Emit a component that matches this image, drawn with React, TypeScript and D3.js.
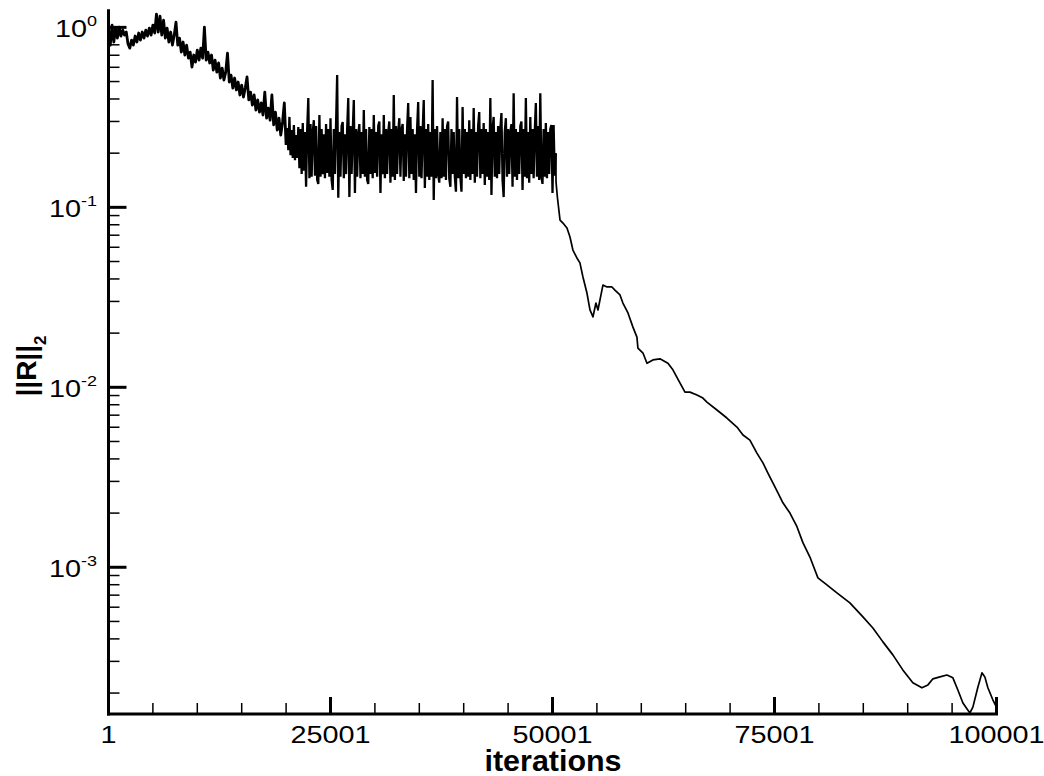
import React from "react";
import * as d3 from "d3";

// ---- Data ----
// Residual history: iterations 1..100001, log-scaled L2 norm of residual

// Early transient: start iteration 1, sampled every 200 iterations
const earlyStart = 1;
const earlyStep = 200;
const earlyValues = [
  0.966, 0.797, 1.03, 0.829, 0.991, 0.872, 1.004, 0.895, 0.966, 0.906,
  0.942, 0.808, 0.767, 0.85, 0.797, 0.895, 0.829, 0.93, 0.85, 0.942,
  0.872, 0.966, 0.895, 0.991, 0.906, 1.03, 0.93, 1.186, 0.942, 1.155,
  0.906, 1.098, 0.872, 0.991, 0.829, 0.942, 0.797, 0.906, 1.07, 0.797,
  0.872, 0.729, 0.829, 0.702, 0.797, 0.675, 0.729, 0.602, 0.702, 0.641,
  0.748, 0.658, 0.767, 0.675, 1.004, 0.658, 0.729, 0.634, 0.702, 0.579,
  0.658, 0.564, 0.634, 0.523, 0.594, 0.51, 0.564, 0.72, 0.497, 0.543,
  0.46, 0.523, 0.449, 0.497, 0.421, 0.478, 0.41, 0.46, 0.53, 0.395,
  0.437, 0.37, 0.421, 0.347, 0.395, 0.338, 0.38, 0.326, 0.437, 0.313,
  0.356, 0.305, 0.421, 0.287, 0.338, 0.269, 0.313, 0.252, 0.298, 0.38,
  0.222,
];

// Stalled plateau: start iteration 20126, sampled every 125 iterations
const plateauStart = 20126;
const plateauStep = 125;
const plateauValues = [
  0.276, 0.208, 0.318, 0.195, 0.269, 0.188, 0.287, 0.183, 0.252, 0.188,
  0.279, 0.165, 0.272, 0.153, 0.294, 0.16, 0.262, 0.13, 0.272, 0.405,
  0.145, 0.29, 0.148, 0.262, 0.305, 0.15, 0.283, 0.142, 0.135, 0.326,
  0.148, 0.272, 0.153, 0.255, 0.145, 0.29, 0.155, 0.272, 0.148, 0.313,
  0.142, 0.125, 0.272, 0.153, 0.29, 0.543, 0.113, 0.262, 0.148, 0.283,
  0.298, 0.145, 0.255, 0.153, 0.272, 0.405, 0.114, 0.283, 0.153, 0.262,
  0.395, 0.12, 0.272, 0.148, 0.255, 0.29, 0.145, 0.262, 0.153, 0.347,
  0.148, 0.272, 0.142, 0.135, 0.279, 0.153, 0.272, 0.145, 0.326, 0.155,
  0.262, 0.148, 0.283, 0.3, 0.12, 0.255, 0.153, 0.326, 0.145, 0.272,
  0.153, 0.262, 0.3, 0.137, 0.272, 0.148, 0.421, 0.142, 0.283, 0.153,
  0.262, 0.313, 0.148, 0.272, 0.29, 0.14, 0.255, 0.148, 0.272, 0.38,
  0.145, 0.318, 0.153, 0.272, 0.142, 0.255, 0.12, 0.272, 0.385, 0.148,
  0.283, 0.145, 0.262, 0.395, 0.128, 0.272, 0.148, 0.29, 0.142, 0.262,
  0.148, 0.51, 0.11, 0.272, 0.145, 0.283, 0.153, 0.137, 0.262, 0.145,
  0.313, 0.148, 0.272, 0.142, 0.283, 0.3, 0.145, 0.13, 0.272, 0.153,
  0.262, 0.148, 0.122, 0.41, 0.145, 0.272, 0.148, 0.122, 0.361, 0.153,
  0.272, 0.145, 0.262, 0.148, 0.305, 0.142, 0.272, 0.153, 0.356, 0.137,
  0.262, 0.148, 0.283, 0.338, 0.145, 0.272, 0.153, 0.294, 0.133, 0.272,
  0.148, 0.262, 0.142, 0.405, 0.117, 0.272, 0.318, 0.148, 0.262, 0.145,
  0.283, 0.153, 0.272, 0.334, 0.142, 0.114, 0.262, 0.313, 0.148, 0.272,
  0.153, 0.262, 0.29, 0.13, 0.431, 0.148, 0.272, 0.142, 0.262, 0.153,
  0.283, 0.3, 0.125, 0.272, 0.148, 0.405, 0.145, 0.262, 0.137, 0.318,
  0.153, 0.272, 0.145, 0.262, 0.38, 0.148, 0.283, 0.142, 0.431, 0.148,
  0.135, 0.272, 0.148, 0.294, 0.145, 0.262, 0.153, 0.272, 0.287, 0.12,
  0.287, 0.15, 0.2,
];

// Convergence phase
const decayIters = [
  50400, 50550, 50850, 51180, 51630, 51970, 52300, 52750, 53090, 53430,
  53880, 54220, 54560, 54890, 55120, 55680, 56130, 56700, 57030, 57600,
  57930, 58500, 59060, 59510, 59620, 60190, 60640, 61310, 62100, 63000,
  63560, 64350, 64920, 65480, 66270, 66940, 67390, 68520, 69640, 70770,
  71450, 72230, 73020, 73700, 74260, 74820, 75390, 75950, 76740, 77530,
  78200, 78990, 79550, 79890, 80900, 82030, 83490, 84960, 86080, 87210,
  88330, 89450, 90580, 91600, 92280, 92840, 93630, 94420, 95090, 95650,
  96220, 97000, 97340, 97910, 98360, 98690, 99030, 99600, 100001,
];
const decayValues = [
  0.138, 0.114, 0.085, 0.0818, 0.0767, 0.0684, 0.0579, 0.0523, 0.0491, 0.041,
  0.0334, 0.0269, 0.0246, 0.0294, 0.0269, 0.037, 0.0361, 0.0361, 0.0347, 0.0326,
  0.0294, 0.0259, 0.0216, 0.019, 0.0165, 0.0155, 0.0136, 0.0142, 0.0144, 0.0136,
  0.0125, 0.01057, 0.0094, 0.0094, 0.00906, 0.00871, 0.00828, 0.00748, 0.00675, 0.00601,
  0.00543, 0.00509, 0.00431, 0.0038, 0.00334, 0.00294, 0.00259, 0.00228, 0.002, 0.00168,
  0.00137, 0.00114, 0.000966, 0.000873, 0.000798, 0.00072, 0.000634, 0.00053, 0.00046, 0.000385,
  0.000326, 0.000269, 0.000228, 0.000214, 0.000222, 0.00024, 0.000246, 0.000252, 0.000243, 0.000208,
  0.000176, 0.000155, 0.000167, 0.000216, 0.000259, 0.000246, 0.000214, 0.000183, 0.000167,
];

// Axis ticks
const xMajorTicks = [1, 25001, 50001, 75001, 100001];
const xMinorTicks = [
  5001, 10001, 15001, 20001, 30001, 35001, 40001, 45001,
  55001, 60001, 65001, 70001, 80001, 85001, 90001, 95001,
];
const yMajorTicks = [1, 0.1, 0.01, 0.001];
const yMajorExponents = ["0", "-1", "-2", "-3"];
const xDomain = [1, 100001];
const yDomain = [1.53e-4, 1.26];

const FONT = "'Liberation Sans', Arial, Helvetica, sans-serif";

export default function App() {
  const left = 108.5;
  const right = 996.5;
  const top = 9.3;
  const bottom = 714;

  const x = d3.scaleLinear().domain(xDomain).range([left, right]);
  const y = d3.scaleLog().domain(yDomain).range([bottom, top]);

  const early: [number, number][] = earlyValues.map((v, i) => [earlyStart + earlyStep * i, v]);
  const plateau: [number, number][] = plateauValues.map((v, i) => [plateauStart + plateauStep * i, v]);
  const decay: [number, number][] = decayIters.map((it, i) => [it, decayValues[i]]);
  const plateauJoined: [number, number][] = [early[early.length - 1], ...plateau];
  const decayJoined: [number, number][] = [plateau[plateau.length - 1], ...decay];

  const line = d3
    .line<[number, number]>()
    .x((d) => x(d[0]))
    .y((d) => y(d[1]));

  const yMinor = y
    .ticks()
    .filter((t) => Math.abs(Math.log10(t) - Math.round(Math.log10(t))) > 1e-6);

  return (
    <svg
      width={1044}
      height={776}
      style={{ position: "absolute", left: 0, top: 0, background: "#fff" }}
    >
      <rect x={0} y={0} width={1044} height={776} fill="#fff" />
      {/* data line */}
      <path d={line(early) || ""} fill="none" stroke="#000" strokeWidth={2.8} strokeLinejoin="round" />
      <path d={line(plateauJoined) || ""} fill="none" stroke="#000" strokeWidth={2.3} strokeLinejoin="miter" strokeMiterlimit={2} />
      <path d={line(decayJoined) || ""} fill="none" stroke="#000" strokeWidth={1.7} strokeLinejoin="round" />

      {/* x minor ticks */}
      {xMinorTicks.map((t) => (
        <line key={"xm" + t} x1={x(t)} x2={x(t)} y1={bottom} y2={bottom - 11} stroke="#000" strokeWidth={1.5} />
      ))}
      {/* x major ticks */}
      {xMajorTicks.map((t) => (
        <line key={"xM" + t} x1={x(t)} x2={x(t)} y1={bottom} y2={bottom - 17} stroke="#000" strokeWidth={3} />
      ))}
      {/* y minor ticks */}
      {yMinor.map((t) => (
        <line key={"ym" + t} x1={left} x2={left + 11} y1={y(t)} y2={y(t)} stroke="#000" strokeWidth={1.5} />
      ))}
      {/* y major ticks */}
      {yMajorTicks.map((t) => (
        <line key={"yM" + t} x1={left} x2={left + 18} y1={y(t)} y2={y(t)} stroke="#000" strokeWidth={3} />
      ))}

      {/* axis lines */}
      <line x1={left} x2={left} y1={top} y2={bottom + 1.5} stroke="#000" strokeWidth={3} />
      <line x1={left - 1.5} x2={right + 1.5} y1={bottom} y2={bottom} stroke="#000" strokeWidth={3} />

      {/* x tick labels */}
      {xMajorTicks.map((t) => (
        <text
          key={"xl" + t}
          transform={`translate(${x(t)},742.5) scale(1.2,1)`}
          textAnchor="middle"
          fontFamily={FONT}
          fontSize={24}
          fill="#000"
        >
          {String(t)}
        </text>
      ))}

      {/* y tick labels */}
      {yMajorTicks.map((t, i) => (
        <text
          key={"yl" + t}
          transform={`translate(97,${y(t) + 9.7}) scale(1.2,1)`}
          textAnchor="end"
          fontFamily={FONT}
          fontSize={24}
          fill="#000"
        >
          10
          <tspan fontSize={15} dy={-11}>
            {yMajorExponents[i]}
          </tspan>
        </text>
      ))}

      {/* axis titles */}
      <text
        transform="translate(553,771) scale(1.05,1)"
        textAnchor="middle"
        fontFamily={FONT}
        fontWeight="bold"
        fontSize={29}
        fill="#000"
      >
        iterations
      </text>
      <text
        transform="translate(36,366) rotate(-90)"
        textAnchor="middle"
        fontFamily={FONT}
        fontWeight="bold"
        fontSize={28}
        fill="#000"
      >
        ||R||
        <tspan fontSize={17} dy={10}>
          2
        </tspan>
      </text>
    </svg>
  );
}
